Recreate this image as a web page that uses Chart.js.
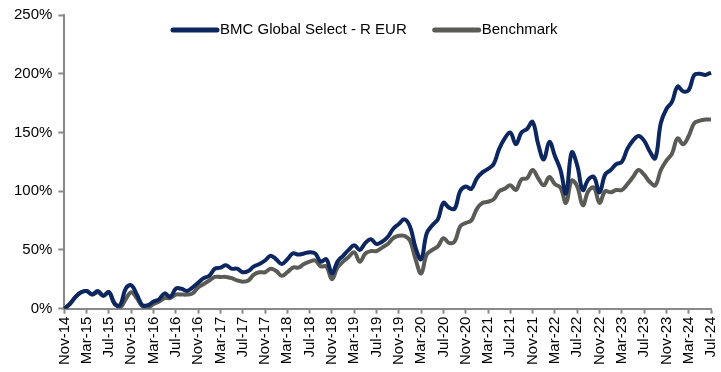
<!DOCTYPE html>
<html>
<head>
<meta charset="utf-8">
<script src="https://cdn.jsdelivr.net/npm/chart.js@4"></script>
<style>
  html, body { margin: 0; padding: 0; background: #fff; }
  #wrap { width: 721px; height: 372px; position: relative; }
</style>
</head>
<body>
<div id="wrap"><canvas id="perfChart"></canvas></div>
<script>
// monthly categories, Nov-14 .. Jul-24
var monthNames = ['Jan','Feb','Mar','Apr','May','Jun','Jul','Aug','Sep','Oct','Nov','Dec'];
var months = [];
for (var m = 10, y = 14; months.length < 117; m++) {
    if (m === 12) { m = 0; y++; }
    months.push(monthNames[m] + '-' + y);
}

// cumulative performance, %
var fund = [0, 4, 10, 14, 15, 12, 15, 11, 14, 4, 3, 17, 20, 12, 3, 3, 6, 8, 13, 10,
    17, 17, 15, 18, 22, 26, 28, 34, 35, 37, 34, 34, 31, 32, 36, 38, 41, 45, 42, 38,
    42, 47, 46, 47, 48, 47, 40, 42, 30, 40, 45, 50, 54, 50, 56, 59, 55, 57, 61, 68,
    72, 76, 70, 52, 42, 64, 71, 76, 90, 86, 85, 100, 104, 102, 111, 116, 119, 123, 136, 145,
    150, 140, 150, 153, 159, 140, 127, 142, 130, 118, 98, 133, 122, 101, 110, 112, 99, 114, 118, 123,
    125, 136, 143, 147, 143, 134, 128, 158, 170, 176, 189, 185, 186, 199, 200, 199, 201];

var benchmark = [0, 4, 10, 14, 15, 12, 14, 11, 14, 5, 1, 8, 14, 9, 2, 1, 4, 6, 9, 9,
    12, 12, 12, 13, 18, 21, 24, 27, 27, 27, 26, 24, 23, 24, 29, 31, 31, 34, 32, 28,
    31, 35, 35, 38, 40, 41, 36, 36, 25, 35, 40, 44, 48, 40, 47, 49, 49, 52, 55, 60,
    62, 62, 58, 42, 30, 46, 50, 53, 60, 56, 57, 70, 73, 75, 85, 90, 91, 93, 100, 102,
    105, 101, 110, 111, 118, 111, 105, 112, 106, 103, 90, 109, 104, 88, 100, 103, 90, 100, 99, 101,
    101, 106, 112, 118, 114, 108, 105, 118, 126, 132, 145, 140, 147, 158, 160, 161, 161];

var yTicks = [0, 50, 100, 150, 200, 250];

var axisGrey = '#898989';
var font = { family: 'Liberation Sans, Arial, sans-serif', size: 15 };

// legend drawn inside the plot, Excel style (line swatch + text)
var inlineLegend = {
    id: 'inlineLegend',
    afterDraw: function (chart) {
        var c = chart.ctx;
        var x = 173, yMid = 30, sw = 44;
        c.save();
        c.font = font.size + 'px ' + font.family;
        c.textBaseline = 'middle';
        chart.data.datasets.forEach(function (ds) {
            c.strokeStyle = ds.borderColor;
            c.lineWidth = 5;
            c.lineCap = 'round';
            c.beginPath();
            c.moveTo(x, yMid);
            c.lineTo(x + sw, yMid);
            c.stroke();
            c.fillStyle = '#000';
            c.fillText(ds.label, x + sw + 3, yMid);
            x += sw + 3 + c.measureText(ds.label).width + 28;
        });
        c.restore();
    }
};

var ctx = document.getElementById('perfChart');
var perfChart = new Chart(ctx, {
    type: 'line',
    data: {
        labels: months,
        datasets: [{
            label: 'BMC Global Select - R EUR',
            data: fund,
            borderColor: '#0c2660',
            borderWidth: 4,
            pointRadius: 0,
            tension: 0.4,
            fill: false
        }, {
            label: 'Benchmark',
            data: benchmark,
            borderColor: '#5a5a56',
            borderWidth: 4,
            pointRadius: 0,
            tension: 0.4,
            fill: false
        }]
    },
    plugins: [inlineLegend],
    options: {
        responsive: true,
        maintainAspectRatio: false,
        animation: false,
        layout: { padding: { left: 8, right: 10, top: 10, bottom: 4 } },
        plugins: {
            tooltip: { enabled: false },
            legend: { display: false }
        },
        scales: {
            x: {
                offset: false,
                afterFit: function (s) { s.paddingRight = 0; },
                grid: {
                    offset: false,
                    drawOnChartArea: false,
                    drawTicks: true,
                    tickLength: 5,
                    tickWidth: 2,
                    tickColor: function (c) { return c.index % 4 === 0 ? axisGrey : 'rgba(0,0,0,0)'; }
                },
                border: { color: axisGrey, width: 2 },
                ticks: {
                    autoSkip: false,
                    minRotation: 90,
                    maxRotation: 90,
                    padding: 3,
                    color: '#000',
                    font: font,
                    callback: function (v, i) { return i % 4 === 0 ? months[i] : ''; }
                }
            },
            y: {
                min: yTicks[0],
                max: yTicks[yTicks.length - 1],
                grid: {
                    drawOnChartArea: false,
                    drawTicks: true,
                    tickLength: 6,
                    tickWidth: 2,
                    tickColor: axisGrey
                },
                border: { color: axisGrey, width: 2 },
                afterBuildTicks: function (axis) {
                    axis.ticks = yTicks.map(function (v) { return { value: v }; });
                },
                ticks: {
                    padding: 6,
                    color: '#000',
                    font: font,
                    callback: function (v) { return v + '%'; }
                }
            }
        }
    }
});
</script>
</body>
</html>
